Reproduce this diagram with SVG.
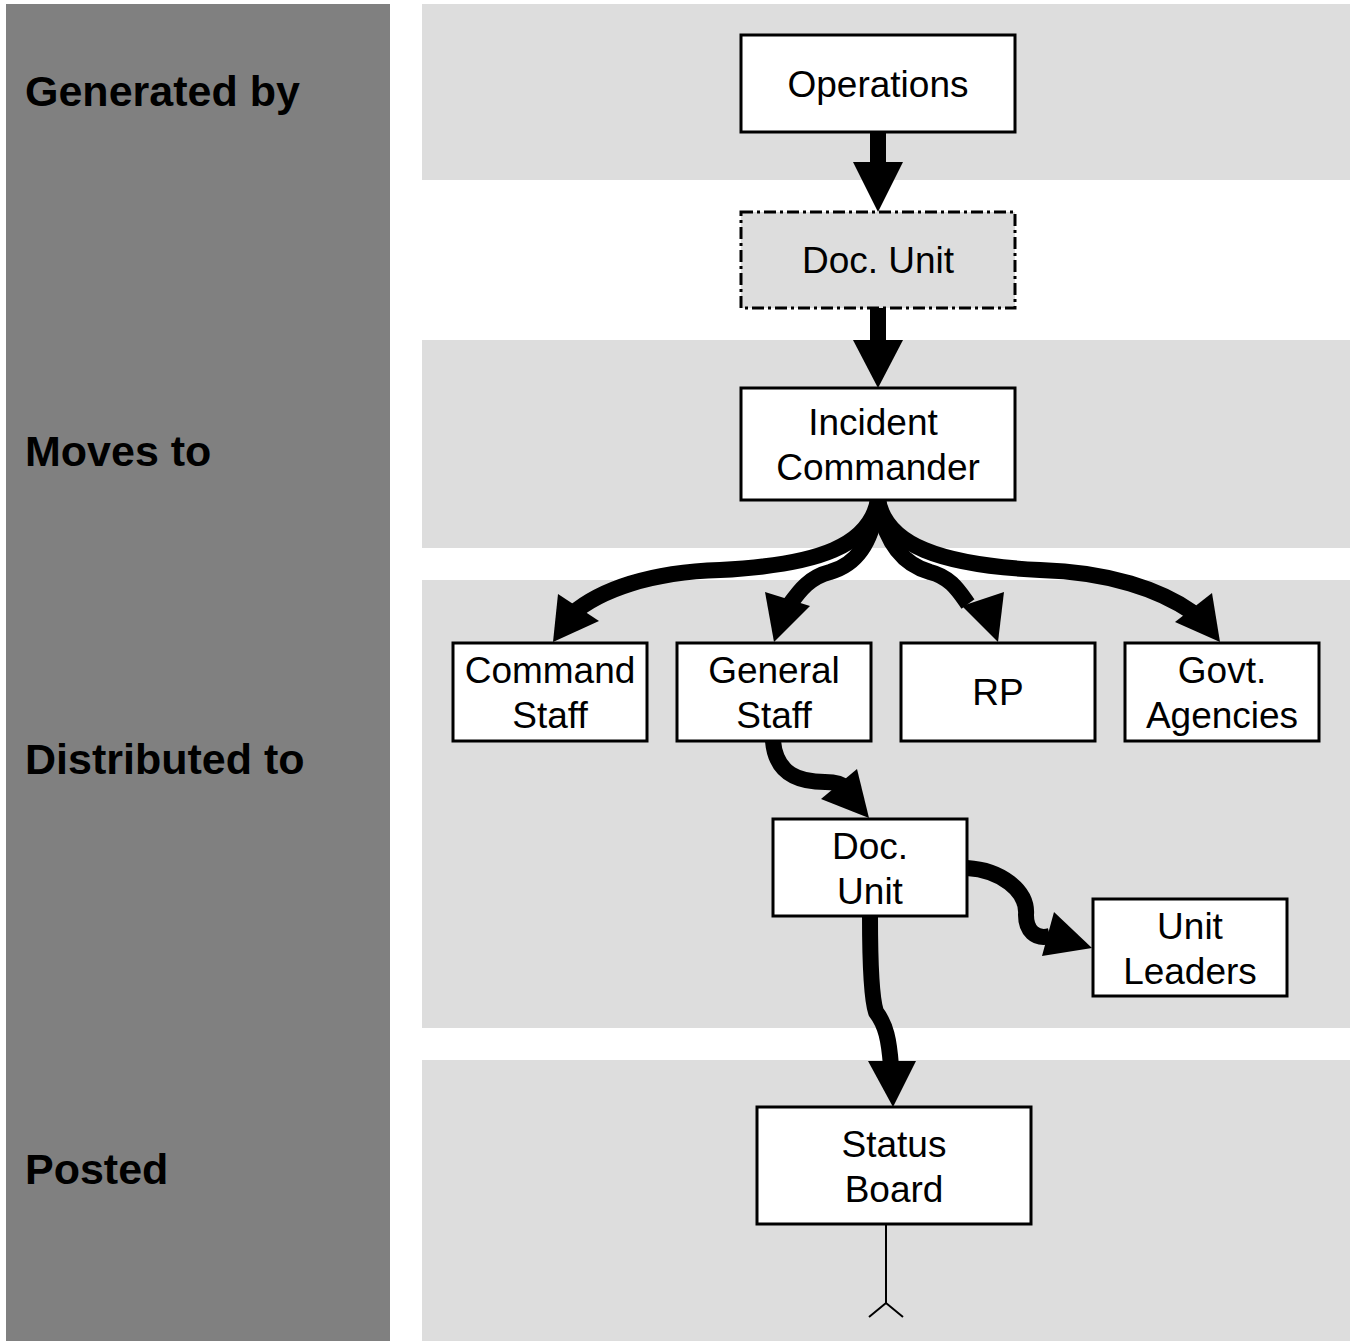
<svg xmlns="http://www.w3.org/2000/svg" width="1356" height="1341" viewBox="0 0 1356 1341">
<style>
.band{fill:#dddddd}
.box{fill:#ffffff;stroke:#000;stroke-width:3}
.dbox{fill:#dddddd;stroke:#000;stroke-width:3;stroke-dasharray:12 4 3 4}
.t{font-family:"Liberation Sans",Arial,sans-serif;font-size:37px;fill:#000;text-anchor:middle}
.lab{font-family:"Liberation Sans",Arial,sans-serif;font-size:43px;font-weight:bold;fill:#000}
.sh{fill:none;stroke:#000;stroke-width:16}
.hd{fill:#000}
</style>
<rect x="0" y="0" width="1356" height="1341" fill="#fff"/>
<rect x="6" y="4" width="384" height="1337" fill="#808080"/>
<rect class="band" x="422" y="4" width="928" height="176"/>
<rect class="band" x="422" y="340" width="928" height="208"/>
<rect class="band" x="422" y="580" width="928" height="448"/>
<rect class="band" x="422" y="1060" width="928" height="281"/>
<g id="labels">
<text class="lab" x="25" y="106">Generated by</text>
<text class="lab" x="25" y="466">Moves to</text>
<text class="lab" x="25" y="774">Distributed to</text>
<text class="lab" x="25" y="1184">Posted</text>
</g>
<g id="connectors">
<rect x="870" y="130" width="16" height="36" fill="#000"/>
<polygon class="hd" points="853,162 903,162 878,212"/>
<rect x="870" y="306" width="16" height="38" fill="#000"/>
<polygon class="hd" points="853,340 903,340 878,388"/>
<path class="sh" d="M878,500 C870,545 820,565 720,570 C650,572 600,590 572,614"/>
<polygon class="hd" points="553,642 558,594 599,621"/>
<path class="sh" d="M878,500 C872,545 855,565 830,572 C810,577 800,590 790,604"/>
<polygon class="hd" points="774,642 765,592 810,606"/>
<path class="sh" d="M878,500 C885,545 905,565 930,572 C950,577 958,590 968,604"/>
<polygon class="hd" points="998,642 962,606 1004,592"/>
<path class="sh" d="M878,500 C886,545 940,565 1040,570 C1110,572 1160,590 1192,612"/>
<polygon class="hd" points="1220,642 1175,622 1212,593"/>
<path class="sh" d="M773,741 C776,775 800,782 825,782 C835,782 842,784 846,788"/>
<polygon class="hd" points="869,818 821,799 857,769"/>
<path class="sh" d="M967,868 C1000,870 1028,890 1026,915 C1026,930 1035,940 1050,936"/>
<polygon class="hd" points="1092,948 1042,956 1054,912"/>
<path class="sh" d="M870,916 C870,960 872,1000 876,1012 C886,1025 889,1040 891,1066"/>
<polygon class="hd" points="893,1107 868,1061 916,1061"/>
<path d="M886,1224 V1303 M869,1317 L886,1303 L903,1317" fill="none" stroke="#000" stroke-width="2"/>
</g>
<g id="operations"><rect class="box" x="741" y="35" width="274" height="97"/><text class="t" x="878" y="97">Operations</text></g>
<g id="docunit1"><rect class="dbox" x="741" y="212" width="274" height="96"/><text class="t" x="878" y="273">Doc. Unit</text></g>
<g id="incident"><rect class="box" x="741" y="388" width="274" height="112"/><text class="t" x="878" y="435"><tspan x="873">Incident</tspan><tspan x="878" dy="45">Commander</tspan></text></g>
<g id="command"><rect class="box" x="453" y="643" width="194" height="98"/><text class="t" x="550" y="683"><tspan x="550">Command</tspan><tspan x="550" dy="45">Staff</tspan></text></g>
<g id="general"><rect class="box" x="677" y="643" width="194" height="98"/><text class="t" x="774" y="683"><tspan x="774">General</tspan><tspan x="774" dy="45">Staff</tspan></text></g>
<g id="rp"><rect class="box" x="901" y="643" width="194" height="98"/><text class="t" x="998" y="705">RP</text></g>
<g id="govt"><rect class="box" x="1125" y="643" width="194" height="98"/><text class="t" x="1222" y="683"><tspan x="1222">Govt.</tspan><tspan x="1222" dy="45">Agencies</tspan></text></g>
<g id="docunit2"><rect class="box" x="773" y="819" width="194" height="97"/><text class="t" x="870" y="859"><tspan x="870">Doc.</tspan><tspan x="870" dy="45">Unit</tspan></text></g>
<g id="unitleaders"><rect class="box" x="1093" y="899" width="194" height="97"/><text class="t" x="1190" y="939"><tspan x="1190">Unit</tspan><tspan x="1190" dy="45">Leaders</tspan></text></g>
<g id="statusboard"><rect class="box" x="757" y="1107" width="274" height="117"/><text class="t" x="894" y="1157"><tspan x="894">Status</tspan><tspan x="894" dy="45">Board</tspan></text></g>
</svg>
